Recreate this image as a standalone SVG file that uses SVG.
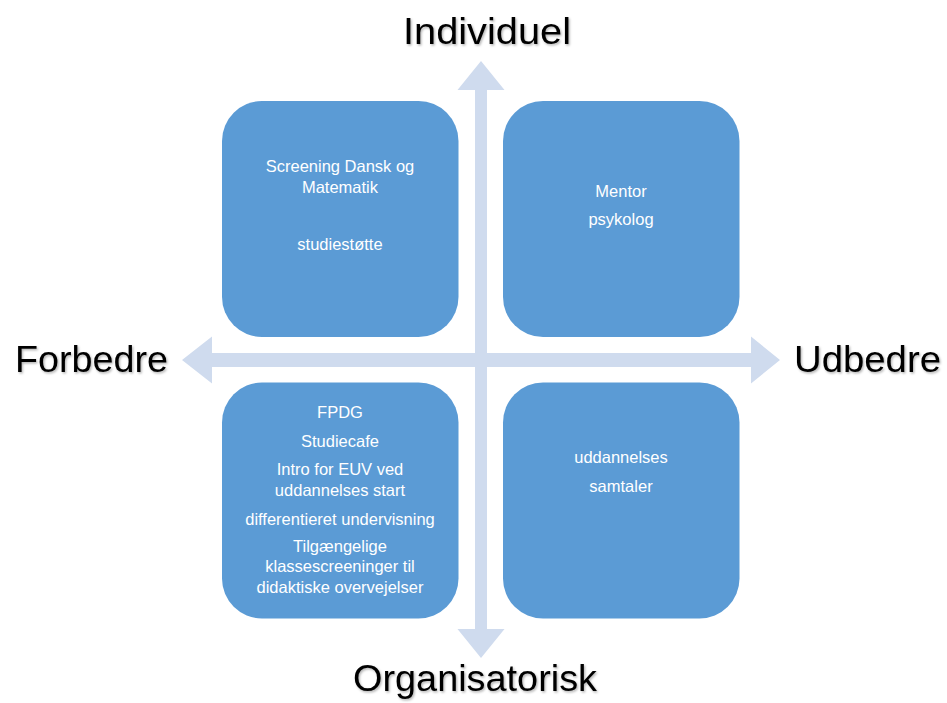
<svg xmlns="http://www.w3.org/2000/svg" width="947" height="703" viewBox="0 0 947 703">
<defs>
<style>
.box{fill:#5B9BD5;}
.axis{fill:#CFDBEE;}
.t{font-family:"Liberation Sans",Arial,sans-serif;font-size:16.5px;fill:#FFFFFF;text-anchor:middle;}
.big{font-family:"Liberation Sans",Arial,sans-serif;font-size:37px;fill:#000000;}
</style>
<filter id="sh" x="-10%" y="-20%" width="120%" height="150%">
<feDropShadow dx="1.2" dy="1.5" stdDeviation="1" flood-color="#000" flood-opacity="0.3"/>
</filter>
</defs>
<rect width="947" height="703" fill="#FFFFFF"/>
<g id="connectors">
<polygon class="axis" points="182,360 212,336.5 212,353 751,353 751,336.5 780,360 751,383.5 751,367 212,367 212,383.5"/>
<polygon class="axis" points="481,61 504.5,90 487,90 487,629 504.5,629 481,658 457.5,629 475,629 475,90 457.5,90"/>
</g>
<g id="node-top-left">
<rect class="box" x="222" y="101" width="236.5" height="236" rx="40" ry="40"/>
<text class="t" x="340" y="172">Screening Dansk og</text>
<text class="t" x="340" y="193">Matematik</text>
<text class="t" x="340" y="250">studiestøtte</text>
</g>
<g id="node-top-right">
<rect class="box" x="503" y="101" width="236.5" height="236" rx="40" ry="40"/>
<text class="t" x="621" y="197">Mentor</text>
<text class="t" x="621" y="225">psykolog</text>
</g>
<g id="node-bottom-left">
<rect class="box" x="222" y="382.5" width="236.5" height="236" rx="40" ry="40"/>
<text class="t" x="340" y="418">FPDG</text>
<text class="t" x="340" y="447">Studiecafe</text>
<text class="t" x="340" y="475">Intro for EUV ved</text>
<text class="t" x="340" y="496">uddannelses start</text>
<text class="t" x="340" y="525">differentieret undervisning</text>
<text class="t" x="340" y="552">Tilgængelige</text>
<text class="t" x="340" y="572">klassescreeninger til</text>
<text class="t" x="340" y="593">didaktiske overvejelser</text>
</g>
<g id="node-bottom-right">
<rect class="box" x="503" y="382.5" width="236.5" height="236" rx="40" ry="40"/>
<text class="t" x="621" y="463">uddannelses</text>
<text class="t" x="621" y="492">samtaler</text>
</g>
<g id="label-individuel"><text class="big" filter="url(#sh)" x="403" y="44" textLength="168" lengthAdjust="spacingAndGlyphs">Individuel</text></g>
<g id="label-organisatorisk"><text class="big" filter="url(#sh)" x="353" y="691" textLength="244" lengthAdjust="spacingAndGlyphs">Organisatorisk</text></g>
<g id="label-forbedre"><text class="big" filter="url(#sh)" x="15" y="372" textLength="153" lengthAdjust="spacingAndGlyphs">Forbedre</text></g>
<g id="label-udbedre"><text class="big" filter="url(#sh)" x="794" y="372" textLength="147" lengthAdjust="spacingAndGlyphs">Udbedre</text></g>
</svg>
